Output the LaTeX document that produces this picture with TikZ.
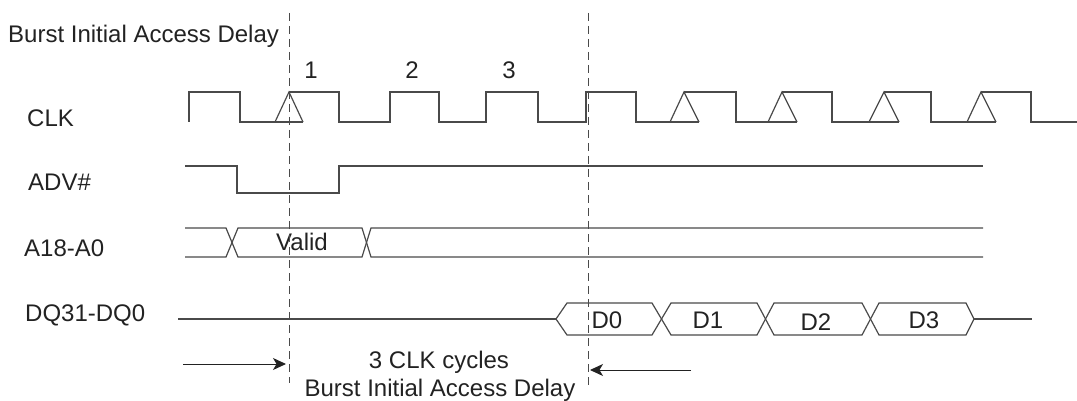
\documentclass[tikz,border=0pt]{standalone}
\usepackage{fontspec}
\setmainfont{Liberation Sans}
\usetikzlibrary{arrows.meta}
\definecolor{wavec}{HTML}{4A4A4A}
\definecolor{txtc}{HTML}{222222}
\begin{document}
\begin{tikzpicture}[x=1pt,y=-1pt,
  wave/.style={draw=wavec, line width=1.2pt, line join=miter},
  dashline/.style={draw=wavec, line width=1pt, dash pattern=on 8pt off 5pt},
  lbl/.style={font=\fontsize{24}{28}\selectfont, text=txtc, inner sep=0pt, anchor=base west},
  clbl/.style={font=\fontsize{24}{28}\selectfont, text=txtc, inner sep=0pt, anchor=base},
  arr/.style={draw=txtc, line width=1pt, -{Stealth[length=13pt,width=12pt,inset=3.5pt]}}]
\useasboundingbox (0,0) rectangle (1077,401);

% labels
\node[lbl] (title) at (8,43) {Burst Initial Access Delay};
\node[lbl] (clk) at (27,126.5) {CLK};
\node[lbl] (adv) at (28,190.5) {ADV\#};
\node[lbl] (addr) at (24,256) {A18-A0};
\node[lbl] (dq) at (25,321.5) {DQ31-DQ0};
\node[clbl] (c1) at (311,79) {1};
\node[clbl] (c2) at (412,79) {2};
\node[clbl] (c3) at (509,79) {3};
\node[lbl] (valid) at (276,250.5) {Valid};
\node[clbl] (d0) at (607,328) {D0};
\node[clbl] (d1) at (708,328) {D1};
\node[clbl] (d2) at (816,330) {D2};
\node[clbl] (d3) at (924,328) {D3};
\node[clbl] (cyc) at (439,368) {3 CLK cycles};
\node[clbl] (bia) at (440,396) {Burst Initial Access Delay};

% dashed markers
\coordinate (m1t) at (289,13); \coordinate (m1b) at (289,383);
\coordinate (m2t) at (588,13); \coordinate (m2b) at (588,387);
\draw[dashline] (m1t) -- (m1b);
\draw[dashline] (m2t) -- (m2b);

% CLK
\draw[wave] (189,122) -- (189,92) -- (240,92) -- (240,122) -- (303,122);
\draw[wave] (275,122) -- (289,92) -- (303,122);
\draw[wave] (289,92) -- (339,92) -- (339,122) -- (390,122) -- (390,92) -- (439,92) -- (439,122)
  -- (486,122) -- (486,92) -- (538,92) -- (538,122) -- (586,122) -- (586,92) -- (636,92) -- (636,122) -- (699,122);
\draw[wave] (670,122) -- (684,92) -- (699,122);
\draw[wave] (684,92) -- (736,92) -- (736,122) -- (797,122);
\draw[wave] (768,122) -- (782,92) -- (797,122);
\draw[wave] (782,92) -- (832,92) -- (832,122) -- (899,122);
\draw[wave] (869,122) -- (884,92) -- (899,122);
\draw[wave] (884,92) -- (931,92) -- (931,122) -- (996,122);
\draw[wave] (967,122) -- (981,92) -- (996,122);
\draw[wave] (981,92) -- (1031,92) -- (1031,122) -- (1077,122);

% ADV#
\draw[wave] (185,166) -- (237,166) -- (237,193) -- (339,193) -- (339,166) -- (983,166);

% A18-A0
\draw[wave] (185,228) -- (226,228) -- (238,257) -- (362,257) -- (371,228) -- (983,228);
\draw[wave] (185,257) -- (226,257) -- (238,228) -- (362,228) -- (371,257) -- (983,257);

% DQ31-DQ0
\draw[wave] (178,319) -- (556,319);
\draw[wave] (556,319) -- (567,303) -- (652,303) -- (671,335) -- (757,335) -- (774,303) -- (862,303) -- (879,335) -- (966,335) -- (974,319);
\draw[wave] (556,319) -- (567,335) -- (652,335) -- (671,303) -- (757,303) -- (774,335) -- (862,335) -- (879,303) -- (966,303) -- (974,319);
\draw[wave] (974,319) -- (1032,319);

% arrows
\coordinate (a1s) at (183,364); \coordinate (a1e) at (286,364);
\coordinate (a2s) at (691,370); \coordinate (a2e) at (590,370);
\draw[arr] (a1s) -- (a1e);
\draw[arr] (a2s) -- (a2e);
\end{tikzpicture}
\end{document}
